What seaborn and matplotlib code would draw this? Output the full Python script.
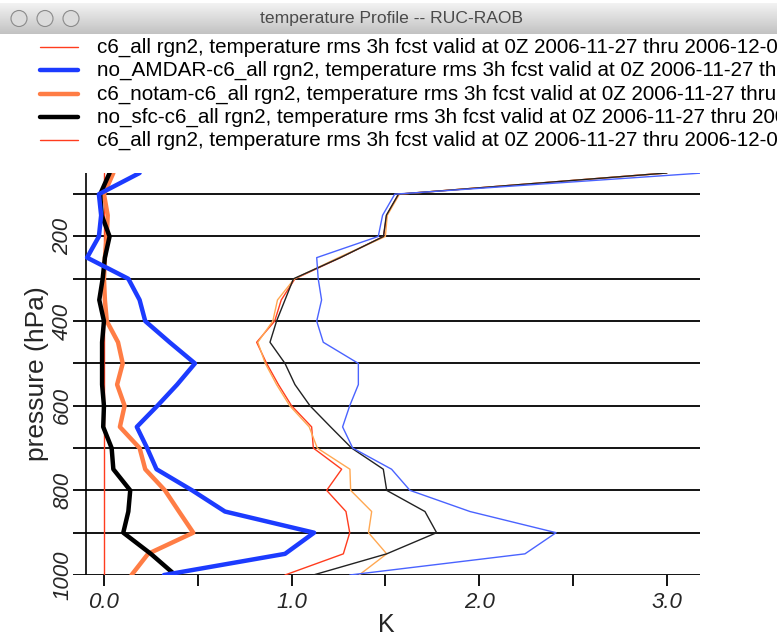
import numpy as np
import matplotlib
matplotlib.use("Agg")
import matplotlib.pyplot as plt
import seaborn as sns
from matplotlib.lines import Line2D
from matplotlib.patches import Circle

# pressure levels (hPa)
levels = [1000, 950, 900, 850, 800, 750, 700, 650, 600, 550,
          500, 450, 400, 350, 300, 250, 200, 150, 100, 50]

# absolute rms (K)
c6_all = [0.965, 1.276, 1.31, 1.29, 1.187, 1.267, 1.116, 1.107, 1.0, 0.93,
          0.867, 0.814, 0.91, 0.945, 1.018, 1.26, 1.49, 1.507, 1.57, 3.0]
no_amdar = [1.31, 2.244, 2.41, 1.951, 1.631, 1.533, 1.326, 1.272, 1.31, 1.356,
            1.356, 1.169, 1.134, 1.16, 1.142, 1.134, 1.462, 1.485, 1.55, 3.19]
c6_notam = [1.116, 1.507, 1.773, 1.711, 1.507, 1.489, 1.32, 1.208, 1.098, 1.018,
            0.965, 0.885, 0.92, 0.965, 1.01, 1.26, 1.49, 1.505, 1.57, 3.0]
no_sfc = [1.36, 1.507, 1.41, 1.427, 1.315, 1.311, 1.137, 1.094, 0.99, 0.92,
          0.86, 0.82, 0.9, 0.925, 1.015, 1.25, 1.5, 1.51, 1.575, 3.0]

# differences from c6_all (K)
d_amdar = [0.32, 0.965, 1.12, 0.645, 0.47, 0.28, 0.23, 0.175, 0.285, 0.39,
           0.485, 0.35, 0.22, 0.19, 0.13, -0.09, -0.027, -0.015, -0.027, 0.19]
d_notam = [0.147, 0.235, 0.476, 0.40, 0.325, 0.22, 0.19, 0.085, 0.11, 0.07,
           0.10, 0.075, 0.015, 0.005, 0.0, 0.005, 0.015, 0.02, 0.0, 0.05]
d_sfc = [0.38, 0.25, 0.103, 0.13, 0.14, 0.05, 0.041, -0.004, 0.0, -0.01,
         -0.01, -0.01, 0.0, -0.025, -0.007, 0.005, 0.03, -0.012, -0.02, 0.03]
d_c6 = [0.0] * len(levels)

label_tail = " rgn2, temperature rms 3h fcst valid at 0Z 2006-11-27 thru 2006-12-04"
legend_labels = ["c6_all" + label_tail,
                 "no_AMDAR-c6_all" + label_tail,
                 "c6_notam-c6_all" + label_tail,
                 "no_sfc-c6_all" + label_tail,
                 "c6_all" + label_tail]

RED = "#ff3c1e"
BLUE = "#1c3bff"
TBLUE = "#4a63ff"
ORANGE = "#ff7d45"
LORANGE = "#ffa852"

sns.set_theme(style="white")
plt.rcParams['font.family'] = ['Liberation Sans', 'DejaVu Sans']

fig = plt.figure(figsize=(7.77, 6.37), dpi=100)
ax = fig.add_axes([73 / 777, 62 / 637, 627 / 777, 402 / 637])

for p in range(100, 1001, 100):
    ax.axhline(p, color="black", lw=1.3, zorder=1)
ax.axvline(-0.096, color="black", lw=1.2, zorder=1)

series = [
    (c6_all, RED, 1.0),
    (no_sfc, LORANGE, 1.0),
    (c6_notam, "#222222", 1.0),
    (no_amdar, TBLUE, 1.0),
    (d_c6, RED, 1.0),
    (d_notam, ORANGE, 3.2),
    (d_sfc, "black", 3.2),
    (d_amdar, BLUE, 3.2),
]
for vals, col, lw in series:
    sns.lineplot(x=vals, y=levels, orient="y", sort=False, estimator=None,
                 color=col, lw=lw, ax=ax, zorder=3)

ax.set_ylim(1000, 50)
ax.set_xlim(-0.165, 3.177)
for s in ax.spines.values():
    s.set_visible(False)

ax.set_xticks([0, 1, 2, 3])
ax.set_xticklabels(["0.0", "1.0", "2.0", "3.0"], fontsize=16, fontstyle="italic")
ax.set_xticks([0.5, 1.5, 2.5], minor=True)
ax.tick_params(axis="x", which="both", bottom=True, direction="out",
               length=8, width=1.3, color="black", pad=4)
ax.set_yticks([200, 400, 600, 800, 1000])
ax.set_yticklabels(["200", "400", "600", "800", "1000"], fontsize=16,
                   fontstyle="italic", rotation=90, va="center")
ax.tick_params(axis="y", left=False, length=0, pad=0)
ax.set_ylabel("pressure (hPa)", fontsize=19, labelpad=2)
ax.set_xlabel("K", fontsize=18, labelpad=0)

# window title bar
tax = fig.add_axes([0, 1 - 34 / 637, 1, 31 / 637])
grad = np.linspace(0.95, 0.76, 64).reshape(-1, 1)
tax.imshow(grad, cmap="gray", vmin=0, vmax=1, aspect="auto",
           extent=[0, 777, 31, 0])
tax.set_xlim(0, 777)
tax.set_ylim(31, 0)
tax.axis("off")
for cx in [19, 45, 71]:
    tax.add_patch(Circle((cx, 15.5), 8, facecolor="#dcdcdc",
                         edgecolor="#8a8a8a", lw=0.8))
tax.text(391, 15.5, "temperature Profile -- RUC-RAOB", ha="center",
         va="center", fontsize=12.6, color="#4a4a4a")

# legend
rows = [47, 70, 94, 117, 140]
styles = [(RED, 1.0), (BLUE, 3.2), (ORANGE, 3.2), ("black", 3.2), (RED, 1.0)]
for yrow, (col, lw), lab in zip(rows, styles, legend_labels):
    yf = 1 - yrow / 637
    fig.add_artist(Line2D([40 / 777, 78 / 777], [yf, yf], color=col, lw=lw))
    fig.text(97 / 777, yf, lab, fontsize=14.9, va="center", ha="left",
             color="black")

fig.savefig("out.png", dpi=100)
